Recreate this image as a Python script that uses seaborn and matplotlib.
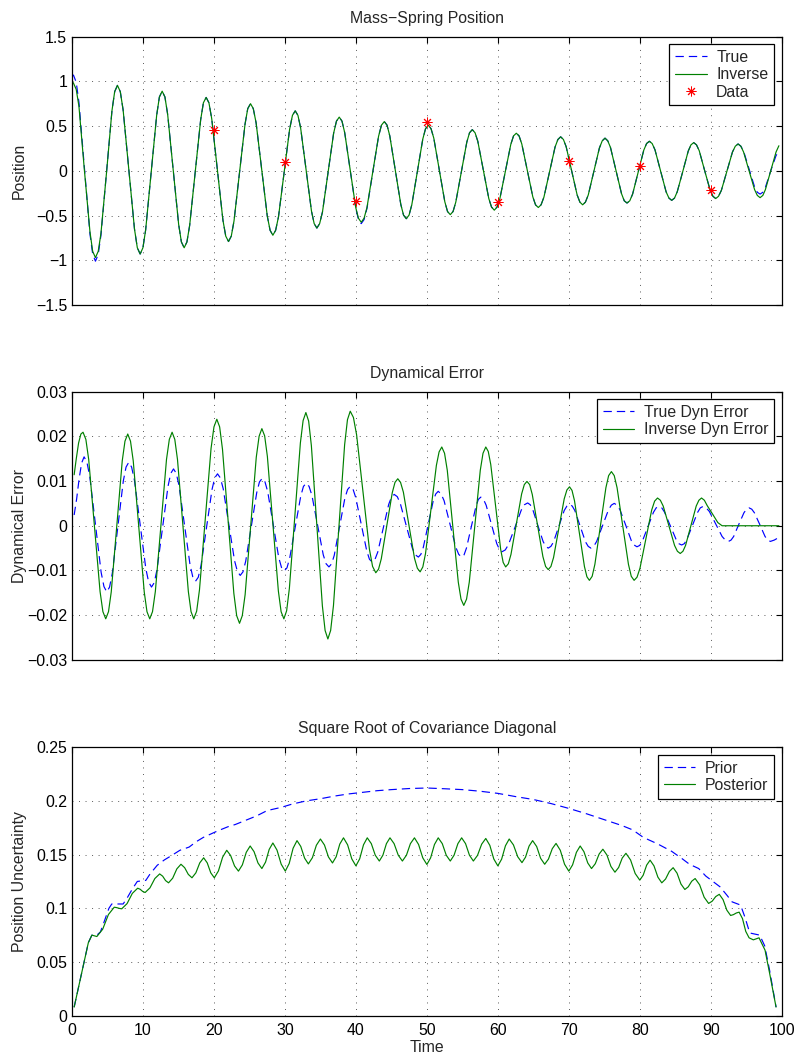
import matplotlib
matplotlib.use("Agg")
import matplotlib.pyplot as plt
from matplotlib.ticker import FuncFormatter
import seaborn as sns
import numpy as np

# ---- panel 1: mass-spring position ----
pos_t = [0.0, 0.2, 0.59, 0.975, 1.75, 2.525, 2.91,
         3.3, 3.69, 4.075, 4.85, 5.625, 6.01,
         6.4, 6.8, 7.2, 8.0, 8.8, 9.2,
         9.6, 9.99, 10.375, 11.15, 11.925, 12.31,
         12.7, 13.09, 13.475, 14.25, 15.025, 15.41,
         15.8, 16.19, 16.575, 17.35, 18.125, 18.51,
         18.9, 19.29, 19.69, 20.475, 21.26, 21.66,
         22.05, 22.44, 22.825, 23.6, 24.375, 24.76,
         25.15, 25.54, 25.94, 26.725, 27.51, 27.91,
         28.3, 28.69, 29.09, 29.875, 30.66, 31.06,
         31.45, 31.83, 32.21, 32.975, 33.74, 34.12,
         34.5, 34.89, 35.29, 36.075, 36.86, 37.26,
         37.65, 38.04, 38.425, 39.2, 39.975, 40.36,
         40.75, 41.15, 41.56, 42.375, 43.19, 43.6,
         44.0, 44.39, 44.775, 45.55, 46.325, 46.71,
         47.1, 47.49, 47.875, 48.65, 49.425, 49.81,
         50.2, 50.59, 50.975, 51.75, 52.525, 52.91,
         53.3, 53.69, 54.075, 54.85, 55.625, 56.01,
         56.4, 56.79, 57.175, 57.95, 58.725, 59.11,
         59.5, 59.89, 60.275, 61.05, 61.825, 62.21,
         62.6, 62.99, 63.375, 64.15, 64.925, 65.31,
         65.7, 66.09, 66.49, 67.275, 68.06, 68.46,
         68.85, 69.24, 69.625, 70.4, 71.175, 71.56,
         71.95, 72.34, 72.74, 73.525, 74.31, 74.71,
         75.1, 75.49, 75.875, 76.65, 77.425, 77.81,
         78.2, 78.59, 78.99, 79.775, 80.56, 80.96,
         81.35, 81.74, 82.14, 82.925, 83.71, 84.11,
         84.5, 84.89, 85.275, 86.05, 86.825, 87.21,
         87.6, 87.99, 88.375, 89.15, 89.925, 90.31,
         90.7, 91.09, 91.49, 92.275, 93.06, 93.46,
         93.85, 94.24, 94.625, 95.4, 96.175, 96.56,
         96.95, 97.34, 97.7, 98.45, 99.2, 99.6]
pos_true = [1.05, 1.07, 0.99, 0.765, 0.03, -0.705, -0.93,
            -1.01, -0.935, -0.72, -0.03, 0.67, 0.885,
            0.955, 0.885, 0.68, 0.01, -0.65, -0.86,
            -0.93, -0.86, -0.66, -0.02, 0.62, 0.825,
            0.89, 0.825, 0.63, 0.015, -0.60, -0.795,
            -0.86, -0.795, -0.61, -0.02, 0.57, 0.76,
            0.82, 0.76, 0.58, 0.015, -0.55, -0.73,
            -0.79, -0.73, -0.56, -0.02, 0.52, 0.695,
            0.75, 0.695, 0.535, 0.015, -0.505, -0.665,
            -0.72, -0.665, -0.515, -0.025, 0.465, 0.62,
            0.67, 0.62, 0.48, 0.015, -0.45, -0.59,
            -0.64, -0.59, -0.46, -0.02, 0.42, 0.555,
            0.60, 0.555, 0.425, 0.005, -0.415, -0.545,
            -0.59, -0.545, -0.42, -0.02, 0.385, 0.51,
            0.55, 0.51, 0.39, 0.01, -0.375, -0.495,
            -0.535, -0.495, -0.38, -0.01, 0.355, 0.47,
            0.51, 0.47, 0.365, 0.01, -0.345, -0.455,
            -0.49, -0.455, -0.35, -0.015, 0.32, 0.425,
            0.46, 0.425, 0.33, 0.01, -0.31, -0.405,
            -0.44, -0.405, -0.315, -0.01, 0.295, 0.39,
            0.42, 0.39, 0.30, 0.005, -0.29, -0.38,
            -0.41, -0.38, -0.295, -0.015, 0.265, 0.35,
            0.38, 0.35, 0.27, 0.0, -0.27, -0.35,
            -0.38, -0.35, -0.27, -0.01, 0.255, 0.335,
            0.365, 0.335, 0.26, 0.0, -0.255, -0.335,
            -0.36, -0.335, -0.26, -0.015, 0.23, 0.305,
            0.33, 0.305, 0.235, 0.0, -0.235, -0.305,
            -0.33, -0.305, -0.235, -0.01, 0.22, 0.29,
            0.315, 0.29, 0.225, 0.0, -0.22, -0.285,
            -0.31, -0.285, -0.22, -0.005, 0.21, 0.275,
            0.30, 0.275, 0.22, 0.02, -0.18, -0.24,
            -0.26, -0.24, -0.185, 0.0, 0.17, 0.22]
pos_inverse = [1.0, 0.98, 0.91, 0.72, 0.0, -0.68, -0.90,
               -0.97, -0.90, -0.70, -0.03, 0.67, 0.885,
               0.955, 0.885, 0.68, 0.01, -0.65, -0.86,
               -0.93, -0.86, -0.66, -0.02, 0.62, 0.825,
               0.89, 0.825, 0.63, 0.015, -0.60, -0.795,
               -0.86, -0.795, -0.61, -0.02, 0.57, 0.76,
               0.82, 0.76, 0.58, 0.015, -0.55, -0.73,
               -0.79, -0.73, -0.56, -0.02, 0.52, 0.695,
               0.75, 0.695, 0.535, 0.015, -0.505, -0.665,
               -0.72, -0.665, -0.515, -0.025, 0.465, 0.62,
               0.67, 0.62, 0.48, 0.015, -0.45, -0.59,
               -0.64, -0.59, -0.46, -0.02, 0.42, 0.555,
               0.60, 0.555, 0.425, 0.005, -0.41, -0.53,
               -0.575, -0.53, -0.41, -0.015, 0.385, 0.51,
               0.55, 0.51, 0.39, 0.01, -0.375, -0.495,
               -0.535, -0.495, -0.38, -0.01, 0.355, 0.47,
               0.51, 0.47, 0.365, 0.01, -0.345, -0.455,
               -0.49, -0.455, -0.35, -0.015, 0.32, 0.425,
               0.46, 0.425, 0.33, 0.01, -0.31, -0.405,
               -0.44, -0.405, -0.315, -0.01, 0.295, 0.39,
               0.42, 0.39, 0.30, 0.005, -0.29, -0.38,
               -0.41, -0.38, -0.295, -0.015, 0.265, 0.35,
               0.38, 0.35, 0.27, 0.0, -0.27, -0.35,
               -0.38, -0.35, -0.27, -0.01, 0.255, 0.335,
               0.365, 0.335, 0.26, 0.0, -0.255, -0.335,
               -0.36, -0.335, -0.26, -0.015, 0.23, 0.305,
               0.33, 0.305, 0.235, 0.0, -0.235, -0.305,
               -0.33, -0.305, -0.235, -0.01, 0.22, 0.29,
               0.315, 0.29, 0.225, 0.0, -0.22, -0.285,
               -0.31, -0.285, -0.22, -0.005, 0.21, 0.275,
               0.30, 0.275, 0.21, 0.0, -0.21, -0.275,
               -0.30, -0.275, -0.21, 0.0, 0.21, 0.28]
data_t = [20, 30, 40, 50, 60, 70, 80, 90]
data_pos = [0.46, 0.10, -0.34, 0.54, -0.35, 0.11, 0.05, -0.22]

# ---- panel 2: dynamical error ----
true_err_t = [0.3, 0.65, 1.0, 1.35,
              1.7, 2.1, 2.5, 3.3, 4.1, 4.5,
              4.9, 5.29, 5.675, 6.45, 7.225, 7.61,
              8.0, 8.4, 8.8, 9.6, 10.4, 10.8,
              11.2, 11.59, 11.975, 12.75, 13.525, 13.91,
              14.3, 14.69, 15.075, 15.85, 16.625, 17.01,
              17.4, 17.79, 18.175, 18.95, 19.725, 20.11,
              20.5, 20.9, 21.3, 22.1, 22.9, 23.3,
              23.7, 24.09, 24.475, 25.25, 26.025, 26.41,
              26.8, 27.19, 27.575, 28.35, 29.125, 29.51,
              29.9, 30.29, 30.675, 31.45, 32.225, 32.61,
              33.0, 33.4, 33.8, 34.6, 35.4, 35.8,
              36.2, 36.58, 36.95, 37.7, 38.45, 38.83,
              39.2, 39.59, 39.975, 40.75, 41.525, 41.91,
              42.3, 42.69, 43.075, 43.85, 44.625, 45.01,
              45.4, 45.83, 46.25, 47.1, 47.95, 48.38,
              48.8, 49.15, 49.5, 50.2, 50.9, 51.25,
              51.6, 52.01, 52.425, 53.25, 54.075, 54.49,
              54.9, 55.24, 55.575, 56.25, 56.925, 57.26,
              57.6, 57.98, 58.35, 59.1, 59.85, 60.23,
              60.6, 61.05, 61.5, 62.4, 63.3, 63.75,
              64.2, 64.56, 64.925, 65.65, 66.375, 66.74,
              67.1, 67.48, 67.85, 68.6, 69.35, 69.73,
              70.1, 70.48, 70.85, 71.6, 72.35, 72.73,
              73.1, 73.51, 73.925, 74.75, 75.575, 75.99,
              76.4, 76.8, 77.2, 78.0, 78.8, 79.2,
              79.6, 79.99, 80.375, 81.15, 81.925, 82.31,
              82.7, 83.1, 83.5, 84.3, 85.1, 85.5,
              85.9, 86.28, 86.65, 87.4, 88.15, 88.53,
              88.9, 89.35, 89.8, 90.7, 91.6, 92.05,
              92.5, 92.86, 93.225, 93.95, 94.675, 95.04,
              95.4, 95.78, 96.15, 96.9, 97.65, 98.03,
              98.4, 98.95, 99.5]
true_err = [0.0024, 0.0060, 0.0105, 0.0140,
            0.0154, 0.0142, 0.0110, 0.0003, -0.0104, -0.0136,
            -0.0148, -0.0137, -0.0106, -0.0003, 0.0100, 0.0131,
            0.0142, 0.0131, 0.0101, 0.0003, -0.0096, -0.0126,
            -0.0137, -0.0127, -0.0098, -0.0005, 0.0088, 0.0117,
            0.0127, 0.0117, 0.0090, 0.0002, -0.0087, -0.0114,
            -0.0124, -0.0115, -0.0089, -0.0004, 0.0081, 0.0107,
            0.0116, 0.0107, 0.0083, 0.0003, -0.0078, -0.0102,
            -0.0111, -0.0103, -0.0079, -0.0003, 0.0074, 0.0098,
            0.0106, 0.0098, 0.0076, 0.0003, -0.0071, -0.0093,
            -0.0101, -0.0094, -0.0072, -0.0003, 0.0066, 0.0088,
            0.0095, 0.0088, 0.0068, 0.0002, -0.0065, -0.0085,
            -0.0092, -0.0085, -0.0066, -0.0002, 0.0062, 0.0081,
            0.0088, 0.0082, 0.0063, 0.0004, -0.0056, -0.0075,
            -0.0081, -0.0075, -0.0059, -0.0006, 0.0048, 0.0064,
            0.0070, 0.0065, 0.0050, 0.0, -0.0050, -0.0065,
            -0.0070, -0.0064, -0.0048, 0.0004, 0.0056, 0.0071,
            0.0077, 0.0071, 0.0056, 0.0004, -0.0048, -0.0064,
            -0.0070, -0.0065, -0.0050, -0.0003, 0.0044, 0.0059,
            0.0064, 0.0059, 0.0046, 0.0003, -0.0040, -0.0053,
            -0.0058, -0.0054, -0.0042, -0.0004, 0.0035, 0.0047,
            0.0051, 0.0047, 0.0036, 0.0, -0.0035, -0.0046,
            -0.0050, -0.0046, -0.0036, -0.0001, 0.0034, 0.0044,
            0.0048, 0.0044, 0.0034, -0.0001, -0.0036, -0.0046,
            -0.0050, -0.0046, -0.0035, 0.0, 0.0035, 0.0046,
            0.0050, 0.0046, 0.0036, 0.0002, -0.0033, -0.0043,
            -0.0047, -0.0044, -0.0034, -0.0002, 0.0030, 0.0040,
            0.0043, 0.0040, 0.0030, 0.0, -0.0030, -0.0040,
            -0.0043, -0.0040, -0.0030, 0.0, 0.0030, 0.0040,
            0.0043, 0.0040, 0.0032, 0.0004, -0.0024, -0.0032,
            -0.0035, -0.0032, -0.0024, 0.0003, 0.0029, 0.0037,
            0.0040, 0.0037, 0.0029, 0.0003, -0.0024, -0.0032,
            -0.0035, -0.0032, -0.0027]

inv_err_t = [0.3, 0.6, 0.925, 1.25,
             1.55, 1.95, 2.35, 3.15, 3.95, 4.35,
             4.75, 5.14, 5.525, 6.3, 7.075, 7.46,
             7.85, 8.24, 8.625, 9.4, 10.175, 10.56,
             10.95, 11.34, 11.74, 12.525, 13.31, 13.71,
             14.1, 14.48, 14.86, 15.625, 16.39, 16.77,
             17.15, 17.56, 17.96, 18.775, 19.59, 20.0,
             20.4, 20.8, 21.2, 22.0, 22.8, 23.2,
             23.6, 23.99, 24.39, 25.175, 25.96, 26.36,
             26.75, 27.14, 27.525, 28.3, 29.075, 29.46,
             29.85, 30.24, 30.625, 31.4, 32.175, 32.56,
             32.95, 33.34, 33.725, 34.5, 35.275, 35.66,
             36.05, 36.44, 36.84, 37.625, 38.41, 38.81,
             39.2, 39.65, 40.1, 41.0, 41.9, 42.35,
             42.8, 43.19, 43.575, 44.35, 45.125, 45.51,
             45.9, 46.29, 46.69, 47.475, 48.26, 48.66,
             49.05, 49.43, 49.81, 50.575, 51.34, 51.72,
             52.1, 52.49, 52.875, 53.65, 54.425, 54.81,
             55.2, 55.59, 55.975, 56.75, 57.525, 57.91,
             58.3, 58.65, 59.0, 59.7, 60.4, 60.75,
             61.1, 61.48, 61.85, 62.6, 63.35, 63.73,
             64.1, 64.48, 64.85, 65.6, 66.35, 66.73,
             67.1, 67.48, 67.85, 68.6, 69.35, 69.73,
             70.1, 70.45, 70.8, 71.5, 72.2, 72.55,
             72.9, 73.29, 73.675, 74.45, 75.225, 75.61,
             76.0, 76.4, 76.8, 77.6, 78.4, 78.8,
             79.2, 79.61, 80.025, 80.85, 81.675, 82.09,
             82.5, 82.9, 83.3, 84.1, 84.9, 85.3,
             85.7, 86.08, 86.45, 87.2, 87.95, 88.33,
             88.7, 89.1, 89.5, 90.3, 91.0, 91.6, 99.6]
inv_err = [0.0114, 0.0150, 0.0185, 0.0205,
           0.0209, 0.0193, 0.0148, 0.0, -0.0147, -0.0192,
           -0.0208, -0.0192, -0.0148, -0.0002, 0.0145, 0.0189,
           0.0205, 0.0189, 0.0145, -0.0002, -0.0148, -0.0192,
           -0.0208, -0.0192, -0.0147, 0.0, 0.0148, 0.0193,
           0.0209, 0.0193, 0.0148, 0.0, -0.0147, -0.0192,
           -0.0208, -0.0191, -0.0143, 0.0015, 0.0173, 0.0221,
           0.0238, 0.0221, 0.0171, 0.0010, -0.0151, -0.0201,
           -0.0218, -0.0201, -0.0154, 0.0, 0.0153, 0.0200,
           0.0217, 0.0201, 0.0155, 0.0005, -0.0146, -0.0192,
           -0.0208, -0.0190, -0.0140, 0.0023, 0.0185, 0.0235,
           0.0253, 0.0234, 0.0179, 0.0, -0.0179, -0.0234,
           -0.0253, -0.0234, -0.0178, 0.0002, 0.0181, 0.0237,
           0.0256, 0.0242, 0.0203, 0.0076, -0.0052, -0.0091,
           -0.0105, -0.0097, -0.0074, 0.0, 0.0074, 0.0097,
           0.0105, 0.0097, 0.0075, 0.0001, -0.0073, -0.0095,
           -0.0103, -0.0092, -0.0062, 0.0037, 0.0135, 0.0165,
           0.0176, 0.0162, 0.0124, -0.0001, -0.0126, -0.0164,
           -0.0178, -0.0164, -0.0126, -0.0001, 0.0124, 0.0162,
           0.0176, 0.0166, 0.0137, 0.0042, -0.0053, -0.0082,
           -0.0092, -0.0085, -0.0064, 0.0004, 0.0071, 0.0092,
           0.0099, 0.0092, 0.0070, 0.0, -0.0069, -0.0091,
           -0.0098, -0.0091, -0.0071, -0.0005, 0.0060, 0.0080,
           0.0087, 0.0079, 0.0056, -0.0017, -0.0091, -0.0114,
           -0.0122, -0.0113, -0.0086, 0.0, 0.0085, 0.0112,
           0.0121, 0.0112, 0.0085, 0.0, -0.0086, -0.0113,
           -0.0122, -0.0115, -0.0095, -0.0030, 0.0035, 0.0055,
           0.0062, 0.0057, 0.0044, 0.0, -0.0044, -0.0057,
           -0.0062, -0.0057, -0.0044, 0.0, 0.0044, 0.0057,
           0.0062, 0.0057, 0.0045, 0.0025, 0.0007, 0.0, 0.0]

# ---- panel 3: square root of covariance diagonal ----
prior_t = [0.3, 0.8, 1.3, 1.8, 2.3, 2.8, 3.5, 4.0, 4.5, 5.2, 5.6, 7.2,
           7.8, 8.5, 9.2, 10.4, 11.0, 12.0, 13.0, 14.0, 15.2, 16.5, 17.5,
           18.5, 19.5, 20.5, 22.0, 23.0, 24.5, 26.0, 27.5, 29.5, 31.0, 33.0,
           35.0, 37.0, 39.0, 41.0, 43.0, 45.0, 47.5, 50.0, 52.5, 55.0, 57.5,
           60.0, 62.5, 65.0, 67.5, 70.0, 72.5, 75.0, 77.5, 79.0, 80.5, 82.5,
           84.5, 86.0, 87.0, 88.3, 89.3, 90.5, 91.3, 92.3, 93.0, 94.2, 94.8,
           95.5, 96.9, 97.6, 98.3, 99.2]
prior = [0.008, 0.023, 0.038, 0.053, 0.068, 0.075, 0.075, 0.078, 0.087,
         0.100, 0.104, 0.104, 0.110, 0.118, 0.125, 0.126, 0.132, 0.140,
         0.145, 0.149, 0.154, 0.157, 0.162, 0.166, 0.169, 0.172, 0.176,
         0.178, 0.182, 0.186, 0.191, 0.194, 0.197, 0.200, 0.202, 0.2045,
         0.2065, 0.208, 0.2095, 0.2105, 0.2115, 0.212, 0.2113, 0.2105, 0.209,
         0.207, 0.204, 0.2013, 0.1975, 0.193, 0.188, 0.1825, 0.177, 0.173,
         0.166, 0.160, 0.153, 0.146, 0.141, 0.137, 0.130, 0.124, 0.120,
         0.112, 0.106, 0.103, 0.092, 0.077, 0.075, 0.065, 0.042, 0.008]

post_t = [0.3, 0.8, 1.3, 1.8, 2.3, 2.8, 3.5, 4.32, 5.13,
          5.95, 6.3, 6.65, 7.0, 7.75, 8.5,
          9.25, 9.6, 9.95, 10.3, 10.98, 11.67,
          12.35, 12.77, 13.18, 13.6, 14.18, 14.77,
          15.35, 15.87, 16.38, 16.9, 17.45, 18.0,
          18.55, 19.05, 19.55, 20.05, 20.63, 21.22,
          21.8, 22.35, 22.9, 23.45, 24.0, 24.55,
          25.1, 25.65, 26.2, 26.75, 27.27, 27.78,
          28.3, 28.88, 29.47, 30.05, 30.6, 31.15,
          31.7, 32.23, 32.77, 33.3, 33.87, 34.43,
          35.0, 35.57, 36.13, 36.7, 37.22, 37.73,
          38.25, 38.83, 39.42, 40.0, 40.53, 41.07,
          41.6, 42.17, 42.73, 43.3, 43.8, 44.3,
          44.8, 45.38, 45.97, 46.55, 47.12, 47.68,
          48.25, 48.83, 49.42, 50.0, 50.53, 51.07,
          51.6, 52.17, 52.73, 53.3, 53.83, 54.37,
          54.9, 55.45, 56.0, 56.55, 57.13, 57.72,
          58.3, 58.87, 59.43, 60.0, 60.53, 61.07,
          61.6, 62.2, 62.8, 63.4, 63.9, 64.4,
          64.9, 65.47, 66.03, 66.6, 67.13, 67.67,
          68.2, 68.8, 69.4, 70.0, 70.53, 71.07,
          71.6, 72.13, 72.67, 73.2, 73.73, 74.27,
          74.8, 75.37, 75.93, 76.5, 77.02, 77.53,
          78.05, 78.7, 79.35, 80.0, 80.48, 80.97,
          81.45, 82.0, 82.55, 83.1, 83.63, 84.17,
          84.7, 85.25, 85.8, 86.35, 86.83, 87.32,
          87.8, 88.43, 89.07, 89.7, 90.2, 90.7,
          91.2, 91.73, 92.27, 92.8, 93.2, 93.6,
          94.0, 94.47, 94.93, 95.4, 96.0, 96.8, 97.65, 98.3, 99.2]
posterior = [0.008, 0.023, 0.038, 0.053, 0.068, 0.075, 0.0737, 0.0805, 0.0942,
             0.1010, 0.1006, 0.0999, 0.0995, 0.1043, 0.1139,
             0.1187, 0.1177, 0.1157, 0.1147, 0.1190, 0.1277,
             0.1320, 0.1299, 0.1258, 0.1237, 0.1280, 0.1367,
             0.1410, 0.1378, 0.1316, 0.1284, 0.1330, 0.1423,
             0.1470, 0.1423, 0.1330, 0.1284, 0.1348, 0.1476,
             0.1540, 0.1491, 0.1394, 0.1346, 0.1404, 0.1521,
             0.1580, 0.1527, 0.1422, 0.1370, 0.1430, 0.1548,
             0.1608, 0.1542, 0.1411, 0.1346, 0.1417, 0.1559,
             0.1630, 0.1576, 0.1467, 0.1413, 0.1471, 0.1587,
             0.1645, 0.1589, 0.1478, 0.1422, 0.1480, 0.1598,
             0.1656, 0.1591, 0.1460, 0.1395, 0.1460, 0.1591,
             0.1656, 0.1602, 0.1494, 0.1440, 0.1494, 0.1602,
             0.1656, 0.1602, 0.1494, 0.1440, 0.1494, 0.1602,
             0.1656, 0.1594, 0.1470, 0.1408, 0.1470, 0.1594,
             0.1656, 0.1602, 0.1494, 0.1440, 0.1494, 0.1602,
             0.1656, 0.1602, 0.1494, 0.1440, 0.1492, 0.1597,
             0.1650, 0.1586, 0.1459, 0.1395, 0.1457, 0.1582,
             0.1645, 0.1590, 0.1480, 0.1425, 0.1476, 0.1579,
             0.1630, 0.1575, 0.1465, 0.1410, 0.1458, 0.1555,
             0.1604, 0.1540, 0.1410, 0.1346, 0.1404, 0.1521,
             0.1580, 0.1527, 0.1422, 0.1370, 0.1415, 0.1505,
             0.1550, 0.1496, 0.1390, 0.1336, 0.1380, 0.1468,
             0.1512, 0.1450, 0.1324, 0.1262, 0.1308, 0.1402,
             0.1448, 0.1395, 0.1290, 0.1237, 0.1272, 0.1343,
             0.1378, 0.1327, 0.1226, 0.1175, 0.1200, 0.1252,
             0.1277, 0.1219, 0.1103, 0.1045, 0.1066, 0.1109,
             0.1130, 0.1081, 0.0982, 0.0933, 0.0941, 0.0956,
             0.0964, 0.0904, 0.0785, 0.0725, 0.0706, 0.0725, 0.0610, 0.0393, 0.008]

sns.set_style("white")
plt.rcParams['font.family'] = ['Liberation Sans', 'DejaVu Sans']
plt.rcParams['lines.scale_dashes'] = False
FS = 11.4

BLUE = (0, 0, 1)
GREEN = (0, 0.5, 0)
RED = (1, 0, 0)


def fmt(v, pos):
    s = f"{round(v, 6):g}"
    return s.replace('-', '\u2212')


def curve(ax, t, v, color, label, dashed=False):
    sns.lineplot(x=t, y=v, ax=ax, color=color, label=label, lw=0.85,
                 estimator=None, sort=False, legend=False)
    line = ax.lines[-1]
    if dashed:
        line.set_dashes([6, 3.6])


def style(ax, ylim, ystep, title, ylabel, show_x):
    ax.set_xlim(0, 100)
    ax.set_ylim(*ylim)
    ax.set_xticks(np.arange(0, 101, 10))
    ax.set_yticks(np.arange(ylim[0], ylim[1] + ystep / 2, ystep))
    ax.yaxis.set_major_formatter(FuncFormatter(fmt))
    ax.tick_params(direction='in', length=4, width=0.8, top=True, right=True,
                   labelsize=FS, labelbottom=show_x, colors='k')
    ax.tick_params(axis='y', pad=3.5)
    ax.tick_params(axis='x', pad=5)
    ax.grid(True, color='0.25', linewidth=0.6, linestyle=(0, (0.7, 4.0)))
    for sp in ax.spines.values():
        sp.set_visible(True)
        sp.set_color('k')
        sp.set_linewidth(0.9)
    ax.set_title(title, fontsize=FS, pad=10)
    ax.set_ylabel(ylabel, fontsize=FS)
    ax.yaxis.set_label_coords(-0.064, 0.5)
    leg = ax.legend(loc='upper right', fontsize=FS, fancybox=False,
                    edgecolor='k', framealpha=1, borderaxespad=0.5,
                    labelspacing=0.15, borderpad=0.35, handlelength=2.0,
                    handletextpad=0.6, numpoints=1)
    leg.get_frame().set_linewidth(0.9)


fig = plt.figure(figsize=(7.95, 10.57), dpi=100)
L, W, H = 0.0906, 0.8927, 0.2540
ax1 = fig.add_axes([L, 0.7114, W, H])
ax2 = fig.add_axes([L, 0.3756, W, H])
ax3 = fig.add_axes([L, 0.0391, W, H])

curve(ax1, pos_t, pos_true, BLUE, 'True', dashed=True)
curve(ax1, pos_t, pos_inverse, GREEN, 'Inverse')
ax1.plot(data_t, data_pos, linestyle='none', marker=(8, 2, 0), markersize=7,
         markeredgewidth=0.7, color=RED, label='Data')
style(ax1, (-1.5, 1.5), 0.5, 'Mass\u2212Spring Position', 'Position', False)

curve(ax2, true_err_t, true_err, BLUE, 'True Dyn Error', dashed=True)
curve(ax2, inv_err_t, inv_err, GREEN, 'Inverse Dyn Error')
style(ax2, (-0.03, 0.03), 0.01, 'Dynamical Error', 'Dynamical Error', False)

curve(ax3, prior_t, prior, BLUE, 'Prior', dashed=True)
curve(ax3, post_t, posterior, GREEN, 'Posterior')
style(ax3, (0, 0.25), 0.05, 'Square Root of Covariance Diagonal',
      'Position Uncertainty', True)
ax3.set_xlabel('Time', fontsize=FS, labelpad=2)

fig.savefig('out.png', dpi=100)
